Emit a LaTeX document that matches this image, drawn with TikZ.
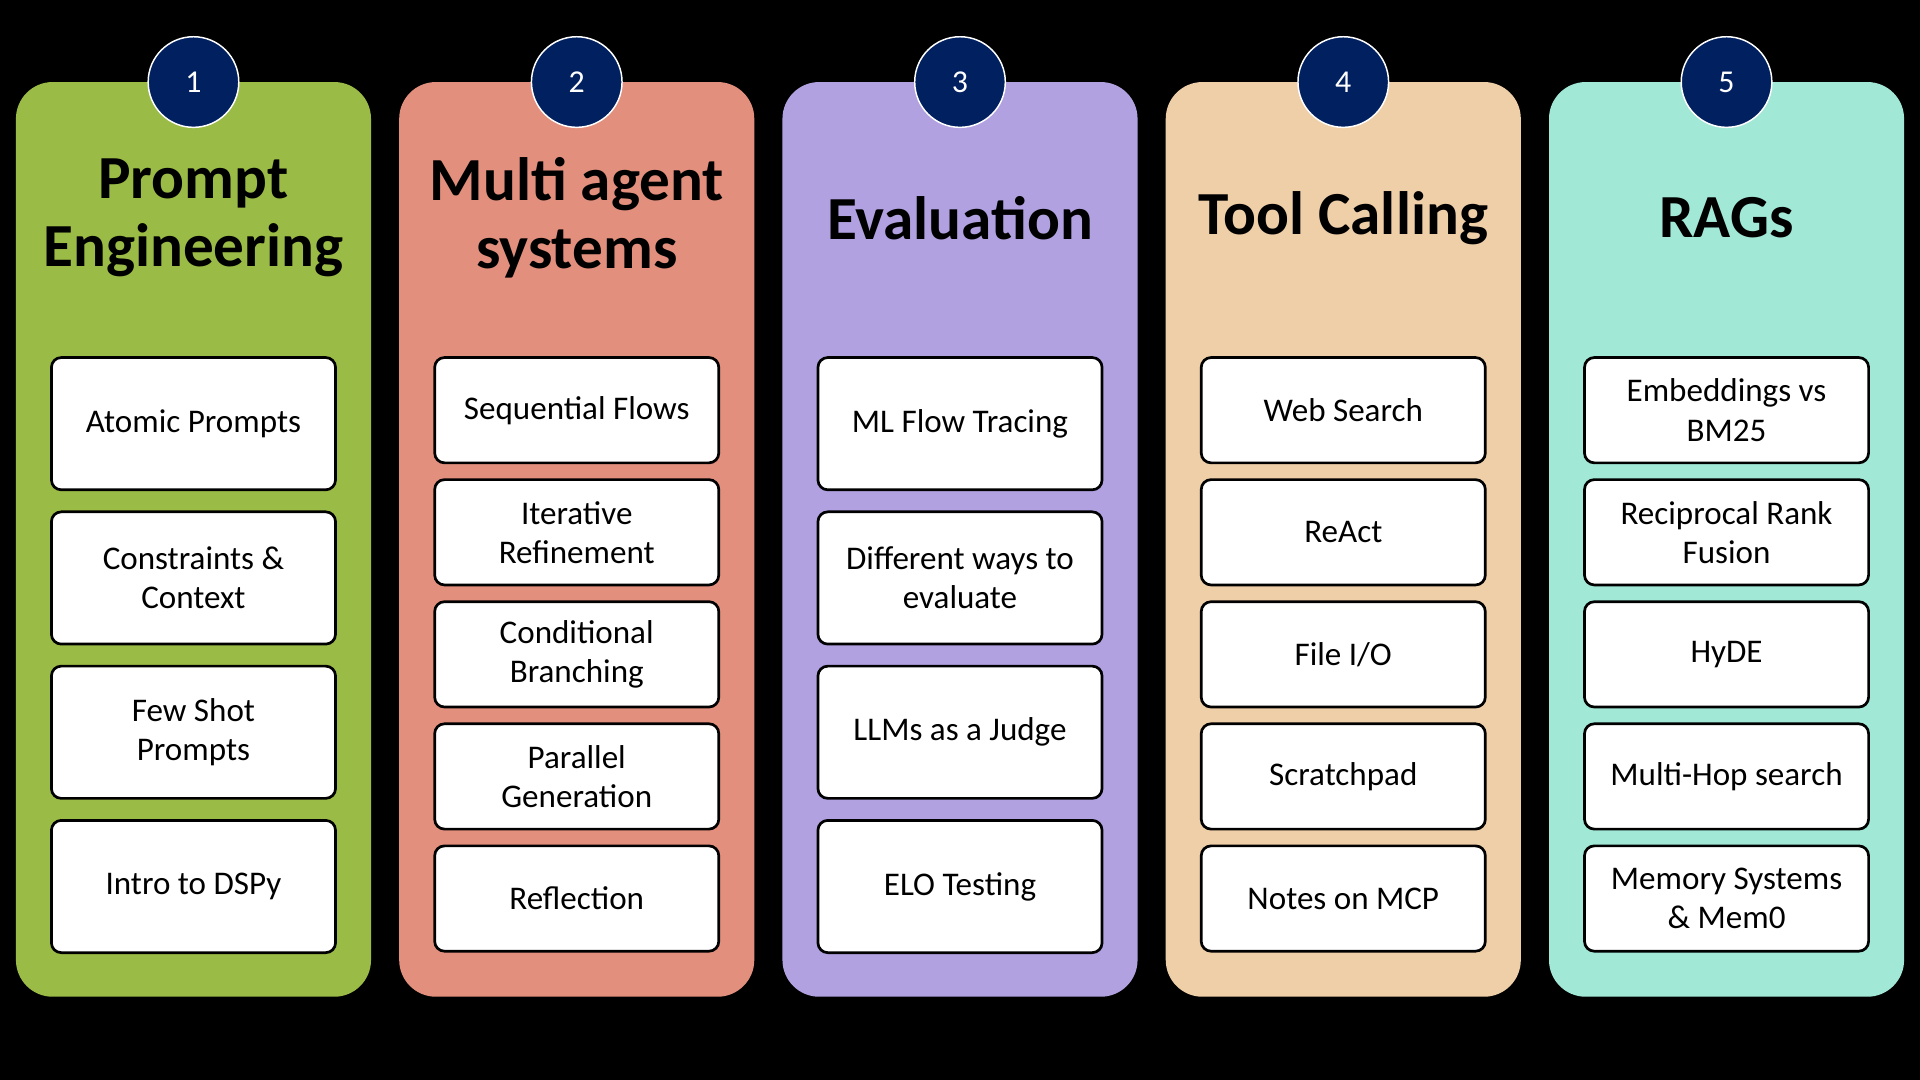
\documentclass[tikz,border=0pt]{standalone}
\usepackage{fontspec}
\setmainfont{Carlito}
\usetikzlibrary{positioning}
\definecolor{colA}{HTML}{9BBB47}
\definecolor{colB}{HTML}{E28F7D}
\definecolor{colC}{HTML}{B1A1E0}
\definecolor{colD}{HTML}{EFCFA8}
\definecolor{colE}{HTML}{A2E8D7}
\definecolor{navy}{HTML}{002060}
\tikzset{
  column/.style={draw=none,fill=#1,rounded corners=30pt,minimum width=290pt,minimum height=747pt,inner sep=0pt},
  badge/.style={circle,fill=navy,draw=white,line width=1.2pt,minimum size=74pt,text=white,font=\fontsize{26}{26}\selectfont},
  heading/.style={align=center,font=\fontsize{50}{55}\selectfont\bfseries},
  item/.style={draw=black,line width=2.2pt,fill=white,rounded corners=8pt,minimum width=232pt,inner sep=2pt,align=center,font=\fontsize{27}{32}\selectfont},
  tall/.style={item,minimum height=108pt},
  short/.style={item,minimum height=86pt}
}
\begin{document}
\begin{tikzpicture}[x=1pt,y=-1pt]
  \useasboundingbox[fill=black] (0,0) rectangle (1568,882);

  % Column backgrounds
  \foreach \c/\col [count=\i] in {158/colA,471/colB,784/colC,1097/colD,1410/colE}{
    \node[column=\col] (col\i) at (\c,440.5) {};
    \node[badge] (num\i) at (\c,67) {\i};
  }

  % Headings
  \node[heading] (head1) at (158,178) {Prompt\\Engineering};
  \node[heading] (head2) at (471,178) {Multi agent\\systems};
  \node[heading] (head3) at (784,178) {Evaluation};
  \node[heading] (head4) at (1097,178) {Tool Calling};
  \node[heading] (head5) at (1410,178) {RAGs};

  % Prompt engineering
  \foreach \t [count=\k] in {Atomic Prompts,{Constraints \&\\Context},{Few Shot\\Prompts},Intro to DSPy}
    \node[tall] (a\k) at (158,{346+126*(\k-1)}) {\t};

  % Multi agent systems
  \foreach \t [count=\k] in {Sequential Flows,{Iterative\\Refinement},{Conditional\\Branching},{Parallel\\Generation},Reflection}
    \node[short] (b\k) at (471,{335+99.7*(\k-1)}) {\t};

  % Evaluation
  \foreach \t [count=\k] in {ML Flow Tracing,{Different ways to\\evaluate},LLMs as a Judge,ELO Testing}
    \node[tall] (c\k) at (784,{346+126*(\k-1)}) {\t};

  % Tool calling
  \foreach \t [count=\k] in {Web Search,ReAct,File I/O,Scratchpad,Notes on MCP}
    \node[short] (d\k) at (1097,{335+99.7*(\k-1)}) {\t};

  % RAGs
  \foreach \t [count=\k] in {{Embeddings vs\\BM25},{Reciprocal Rank\\Fusion},HyDE,Multi-Hop search,{Memory Systems\\\& Mem0}}
    \node[short] (e\k) at (1410,{335+99.7*(\k-1)}) {\t};
\end{tikzpicture}
\end{document}
